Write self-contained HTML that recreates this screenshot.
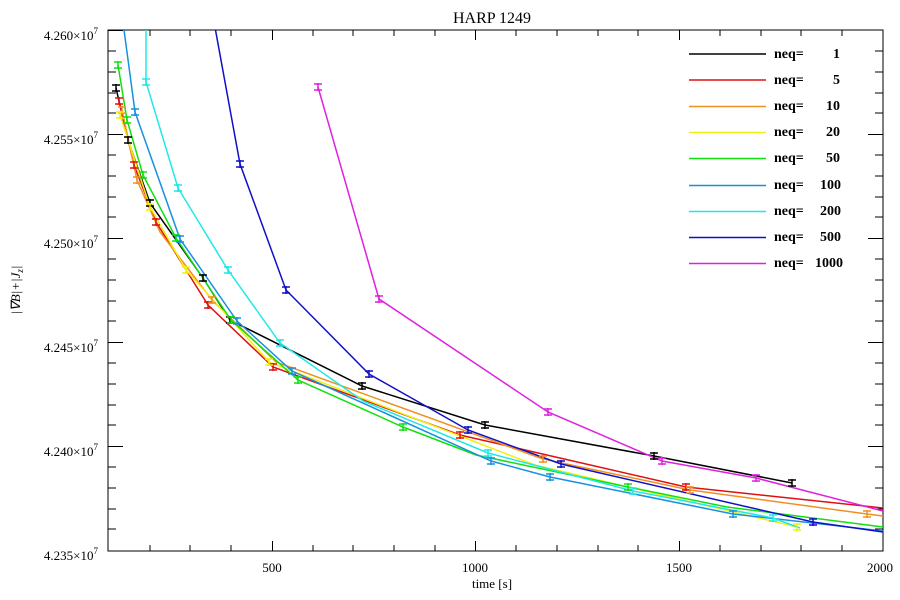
<!DOCTYPE html>
<html><head><meta charset="utf-8"><style>
html,body{margin:0;padding:0;background:#fff;}
svg{display:block;font-family:"Liberation Serif",serif;}
</style></head><body>
<svg width="900" height="600" viewBox="0 0 900 600" xmlns="http://www.w3.org/2000/svg">
<rect width="900" height="600" fill="#fff"/>
<text x="492" y="23" font-size="16" text-anchor="middle">HARP 1249</text>
<text x="492" y="588" font-size="13" text-anchor="middle">time [s]</text>
<text transform="translate(20,290) rotate(-90)" font-size="13" text-anchor="middle" font-style="italic">|∇B|+|J<tspan font-size="9" dy="3">z</tspan><tspan dy="-3">|</tspan></text>
<g font-size="13" text-anchor="end">
<text x="98" y="40">4.260×10<tspan font-size="9" dy="-6">7</tspan></text>
<text x="98" y="144">4.255×10<tspan font-size="9" dy="-6">7</tspan></text>
<text x="98" y="248">4.250×10<tspan font-size="9" dy="-6">7</tspan></text>
<text x="98" y="352">4.245×10<tspan font-size="9" dy="-6">7</tspan></text>
<text x="98" y="456">4.240×10<tspan font-size="9" dy="-6">7</tspan></text>
<text x="98" y="560">4.235×10<tspan font-size="9" dy="-6">7</tspan></text>
</g>
<g font-size="13" text-anchor="middle">
<text x="272" y="572">500</text><text x="475" y="572">1000</text><text x="679" y="572">1500</text><text x="880" y="572">2000</text>
</g>
<g stroke="#000" stroke-width="1" fill="none">
<rect x="108" y="30" width="775" height="521"/>
<path d="M108 30.5h15M108 134.5h15M108 238.5h15M108 342.5h15M108 446.5h15
M883 134.5h-15M883 238.5h-15M883 342.5h-15M883 446.5h-15
M108 51h8M108 72h8M108 93h8M108 113h8M108 155h8M108 176h8M108 197h8M108 217h8M108 259h8M108 280h8M108 301h8M108 321h8M108 363h8M108 384h8M108 405h8M108 425h8M108 467h8M108 488h8M108 509h8M108 529h8
M883 51h-8M883 72h-8M883 93h-8M883 113h-8M883 155h-8M883 176h-8M883 197h-8M883 217h-8M883 259h-8M883 280h-8M883 301h-8M883 321h-8M883 363h-8M883 384h-8M883 405h-8M883 425h-8M883 467h-8M883 488h-8M883 509h-8M883 529h-8
M272.5 551v-10M475.5 551v-10M679.5 551v-10M272.5 30v10M475.5 30v10M679.5 30v10
M150 551v-6M190 551v-6M231 551v-6M313 551v-6M353 551v-6M394 551v-6M435 551v-6M516 551v-6M557 551v-6M598 551v-6M638 551v-6M720 551v-6M761 551v-6M801 551v-6M842 551v-6
M150 30v6M190 30v6M231 30v6M313 30v6M353 30v6M394 30v6M435 30v6M516 30v6M557 30v6M598 30v6M638 30v6M720 30v6M761 30v6M801 30v6M842 30v6"/>
</g>
<defs><clipPath id="c"><rect x="108" y="30" width="775" height="521"/></clipPath></defs>
<g clip-path="url(#c)" fill="none" stroke-width="1.5">
<polyline stroke="#000" points="116,88 128,140 150,203 203,278 230,320 362,386 485,425 654,456 792,483"/>
<polyline stroke="#e01010" points="119,101 134,165 156,222 208,305 273,367 460,435 686,487 883,508"/>
<polyline stroke="#f09020" points="122,110 137,180 160,232 212,300 276,362 543,459 690,490 867,514 883,516"/>
<polyline stroke="#f0f010" points="120,115 150,207 186,270 269,362 535,465 797,527"/>
<polyline stroke="#10e010" points="118,65 127,120 143,175 176,238 231,320 298,380 403,427 476,455 628,487 727,507 883,527"/>
<polyline stroke="#1890e0" points="120,0 135,112 180,239 237,321 292,371 491,461 550,477 733,514 883,531"/>
<polyline stroke="#20e8e8" points="146,0 146,82 178,188 228,270 280,343 363,401 488,453 633,491 773,518 800,528"/>
<polyline stroke="#1010c8" points="210,0 240,164 286,290 369,374 468,430 561,464 813,522 883,532"/>
<polyline stroke="#e020e0" points="318,87 379,299 548,412 662,461 756,478 883,511"/>
</g>
<g stroke-width="1.5" fill="none">
<g stroke="#000"><path d="M112 85h8M112 91h8M116 84v8M124 137h8M124 143h8M128 136v8M146 200h8M146 206h8M150 199v8M199 275h8M199 281h8M203 274v8M226 317h8M226 323h8M230 316v8M358 383h8M358 389h8M362 382v8M481 422h8M481 428h8M485 421v8M650 453h8M650 459h8M654 452v8M788 480h8M788 486h8M792 479v8"/></g>
<g stroke="#e01010"><path d="M115 98h8M115 104h8M119 97v8M130 162h8M130 168h8M134 161v8M152 219h8M152 225h8M156 218v8M204 302h8M204 308h8M208 301v8M269 364h8M269 370h8M273 363v8M456 432h8M456 438h8M460 431v8M682 484h8M682 490h8M686 483v8"/></g>
<g stroke="#f09020"><path d="M118 107h8M118 113h8M122 106v8M133 177h8M133 183h8M137 176v8M208 297h8M208 303h8M212 296v8M539 456h8M539 462h8M543 455v8M686 487h8M686 493h8M690 486v8M863 511h8M863 517h8M867 510v8"/></g>
<g stroke="#f0f010"><path d="M116 112h8M116 118h8M120 111v8M146 204h8M146 210h8M150 203v8M182 267h8M182 273h8M186 266v8M265 359h8M265 365h8M269 358v8M793 524h8M793 530h8M797 523v8"/></g>
<g stroke="#10e010"><path d="M114 62h8M114 68h8M118 61v8M123 117h8M123 123h8M127 116v8M139 172h8M139 178h8M143 171v8M172 235h8M172 241h8M176 234v8M227 317h8M227 323h8M231 316v8M294 377h8M294 383h8M298 376v8M399 424h8M399 430h8M403 423v8M624 484h8M624 490h8M628 483v8"/></g>
<g stroke="#1890e0"><path d="M131 109h8M131 115h8M135 108v8M176 236h8M176 242h8M180 235v8M233 318h8M233 324h8M237 317v8M288 368h8M288 374h8M292 367v8M487 458h8M487 464h8M491 457v8M546 474h8M546 480h8M550 473v8M729 511h8M729 517h8M733 510v8"/></g>
<g stroke="#20e8e8"><path d="M142 79h8M142 85h8M146 78v8M174 185h8M174 191h8M178 184v8M224 267h8M224 273h8M228 266v8M276 340h8M276 346h8M280 339v8M484 450h8M484 456h8M488 449v8M629 488h8M629 494h8M633 487v8M769 515h8M769 521h8M773 514v8"/></g>
<g stroke="#1010c8"><path d="M236 161h8M236 167h8M240 160v8M282 287h8M282 293h8M286 286v8M365 371h8M365 377h8M369 370v8M464 427h8M464 433h8M468 426v8M557 461h8M557 467h8M561 460v8M809 519h8M809 525h8M813 518v8"/></g>
<g stroke="#e020e0"><path d="M314 84h8M314 90h8M318 83v8M375 296h8M375 302h8M379 295v8M544 409h8M544 415h8M548 408v8M658 458h8M658 464h8M662 457v8M752 475h8M752 481h8M756 474v8"/></g>
</g>
<g stroke-width="1.5">
<line x1="689" y1="54" x2="766" y2="54" stroke="#000"/>
<line x1="689" y1="80" x2="766" y2="80" stroke="#e01010"/>
<line x1="689" y1="106.5" x2="766" y2="106.5" stroke="#f09020"/>
<line x1="689" y1="132.5" x2="766" y2="132.5" stroke="#f0f010"/>
<line x1="689" y1="158.5" x2="766" y2="158.5" stroke="#10e010"/>
<line x1="689" y1="185.5" x2="766" y2="185.5" stroke="#1890e0"/>
<line x1="689" y1="211.5" x2="766" y2="211.5" stroke="#20e8e8"/>
<line x1="689" y1="237.5" x2="766" y2="237.5" stroke="#1010c8"/>
<line x1="689" y1="263.5" x2="766" y2="263.5" stroke="#e020e0"/>
</g>
<g font-size="14" font-weight="bold">
<text x="774" y="58">neq=</text><text x="840" y="58" text-anchor="end">1</text>
<text x="774" y="84">neq=</text><text x="840" y="84" text-anchor="end">5</text>
<text x="774" y="110">neq=</text><text x="840" y="110" text-anchor="end">10</text>
<text x="774" y="136">neq=</text><text x="840" y="136" text-anchor="end">20</text>
<text x="774" y="162">neq=</text><text x="840" y="162" text-anchor="end">50</text>
<text x="774" y="189">neq=</text><text x="841" y="189" text-anchor="end">100</text>
<text x="774" y="215">neq=</text><text x="841" y="215" text-anchor="end">200</text>
<text x="774" y="241">neq=</text><text x="841" y="241" text-anchor="end">500</text>
<text x="774" y="267">neq=</text><text x="843" y="267" text-anchor="end">1000</text>
</g>
</svg>
</body></html>
